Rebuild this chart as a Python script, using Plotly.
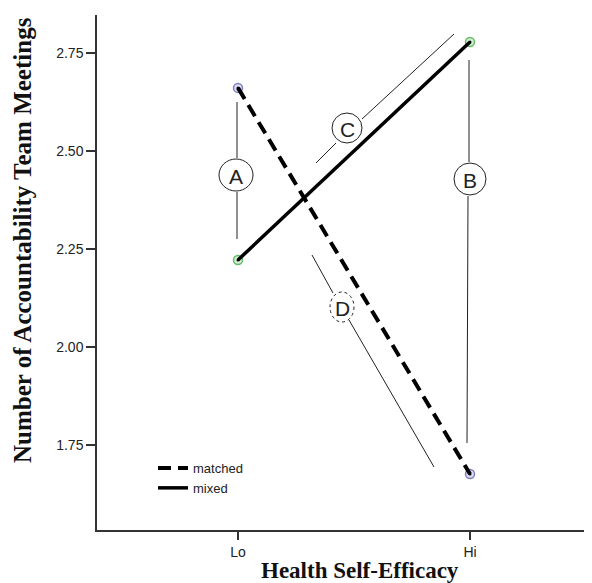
import plotly.graph_objects as go

# ---- data ----
categories = ["Lo", "Hi"]
x_pos = [0, 1]
matched = [2.661, 1.676]
mixed = [2.222, 2.778]
y_ticks = [1.75, 2.00, 2.25, 2.50, 2.75]
y_tick_labels = ["1.75", "2.00", "2.25", "2.50", "2.75"]
series_names = ["matched", "mixed"]

# ---- layout geometry (page pixels; the page body has an 8px margin) ----
OFF = 8
PAGE_W, PAGE_H = 592, 583
W, H = PAGE_W - OFF, PAGE_H - OFF
AX_L, AX_R, AX_T, AX_B = 97, 592, 15, 530    # plot area in page pixels
PX_LO, PX_HI = 238, 470
PY_275, PY_175 = 53, 445

def dx(px):
    return (px - PX_LO) / (PX_HI - PX_LO)
def dy(py):
    return 2.75 - (py - PY_275) / (PY_175 - PY_275)
def paper_x(px):
    return (px - AX_L) / (AX_R - AX_L)
def paper_y(py):
    return (AX_B - py) / (AX_B - AX_T)

fig = go.Figure()

fig.add_trace(go.Scatter(x=x_pos, y=matched, mode="markers", showlegend=False,
                         marker=dict(size=9, color="#dcdcf2", line=dict(color="#8080c0", width=1.5)),
                         hoverinfo="skip"))
fig.add_trace(go.Scatter(x=x_pos, y=mixed, mode="markers", showlegend=False,
                         marker=dict(size=9, color="#d4eed4", line=dict(color="#66bb66", width=1.5)),
                         hoverinfo="skip"))

fig.add_trace(go.Scatter(x=x_pos, y=matched, mode="lines", name=series_names[0],
                         line=dict(color="black", width=4, dash="13px,7px")))
fig.add_trace(go.Scatter(x=x_pos, y=mixed, mode="lines", name=series_names[1],
                         line=dict(color="black", width=3.5)))

fig.add_trace(go.Scatter(x=x_pos + x_pos, y=matched + mixed, mode="markers", showlegend=False,
                         marker=dict(size=3, color="black"), hoverinfo="skip"))

seg_color = "#222222"
segments = [
    ((237, 102), (237, 158)), ((237, 192), (237, 239)),      # A
    ((469, 60), (469, 162)), ((468, 196), (467, 443)),       # B
    ((316, 163), (336, 143)), ((362, 119), (454, 34)),       # C
    ((312, 255), (333, 293)), ((349, 320), (434, 467)),      # D
]
shapes = []
for (x0, y0), (x1, y1) in segments:
    shapes.append(dict(type="line", xref="x", yref="y", x0=dx(x0), y0=dy(y0), x1=dx(x1), y1=dy(y1),
                       line=dict(color=seg_color, width=1)))

circles = [  # label, cx, cy, rx, ry, dash
    ("A", 236, 175, 17, 16, "solid"),
    ("B", 470, 179, 16, 16, "solid"),
    ("C", 347, 128, 15, 15, "solid"),
    ("D", 342, 307, 12, 15, "dot"),
]
annotations = []
for lab, cx, cy, rx, ry, dsh in circles:
    shapes.append(dict(type="circle", xref="x", yref="y",
                       x0=dx(cx - rx), x1=dx(cx + rx), y0=dy(cy + ry), y1=dy(cy - ry),
                       fillcolor="white", line=dict(color=seg_color, width=1, dash=dsh)))
    annotations.append(dict(x=dx(cx), y=dy(cy + 1), xref="x", yref="y", text=lab, showarrow=False,
                            font=dict(family="Liberation Sans, Arial", size=21, color="#222222"),
                            xanchor="center", yanchor="middle"))

annotations.append(dict(x=paper_x(360), y=paper_y(570), xref="paper", yref="paper",
                        text="<b>Health Self-Efficacy</b>", showarrow=False,
                        font=dict(family="Liberation Serif, Times New Roman", size=23, color="#111111"),
                        xanchor="center", yanchor="middle"))
annotations.append(dict(x=paper_x(22), y=paper_y(240), xref="paper", yref="paper",
                        text="<b>Number of Accountability Team Meetings</b>", showarrow=False, textangle=-90,
                        font=dict(family="Liberation Serif, Times New Roman", size=25, color="#111111"),
                        xanchor="center", yanchor="middle"))

fig.update_layout(
    width=W, height=H,
    margin=dict(l=AX_L - OFF, r=PAGE_W - AX_R, t=AX_T - OFF, b=PAGE_H - AX_B, pad=0),
    paper_bgcolor="white", plot_bgcolor="white",
    shapes=shapes, annotations=annotations,
    showlegend=True,
    legend=dict(x=paper_x(153), y=paper_y(453), xanchor="left", yanchor="top",
                bgcolor="rgba(0,0,0,0)", font=dict(family="Liberation Sans, Arial", size=13, color="#222222"),
                tracegroupgap=0, itemwidth=30),
    xaxis=dict(range=[dx(AX_L), dx(AX_R)], tickvals=x_pos, ticktext=categories,
               showline=True, linecolor="#333333", linewidth=1.5, mirror=False,
               ticks="outside", ticklen=8, tickwidth=1.5, tickcolor="#333333",
               showgrid=False, zeroline=False,
               tickfont=dict(family="Liberation Sans, Arial", size=14, color="#222222")),
    yaxis=dict(range=[dy(AX_B), dy(AX_T)], tickvals=y_ticks, ticktext=y_tick_labels,
               showline=True, linecolor="#333333", linewidth=1.5,
               ticks="outside", ticklen=9, tickwidth=1.5, tickcolor="#333333",
               showgrid=False, zeroline=False,
               tickfont=dict(family="Liberation Sans, Arial", size=14, color="#222222")),
)

fig.write_html("out.html")
